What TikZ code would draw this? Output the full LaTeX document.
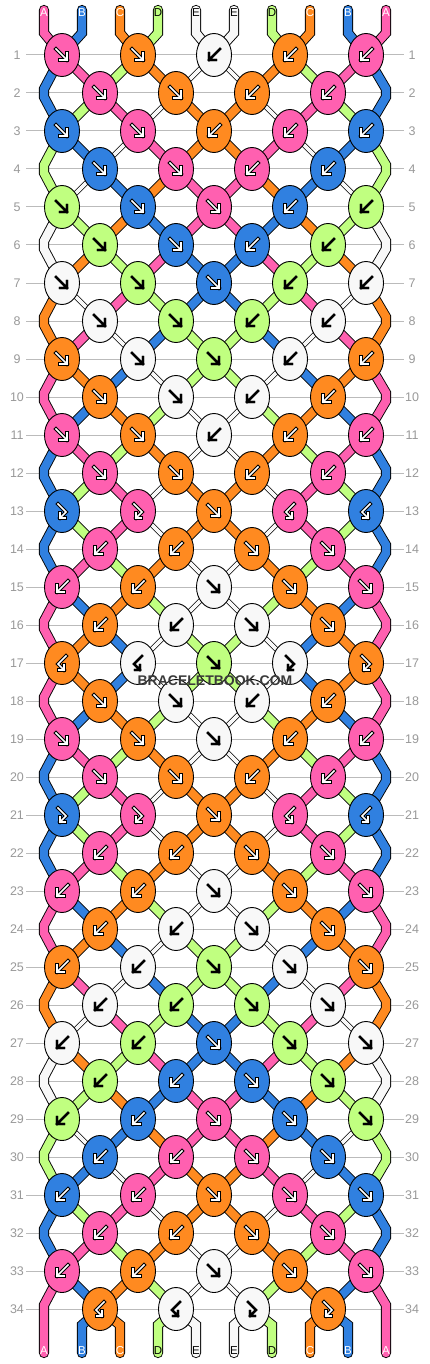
\documentclass[tikz,border=0pt]{standalone}
\usepackage{fontspec}
\setmainfont{Liberation Sans}
\usetikzlibrary{shapes.geometric}
\pgfdeclarelayer{bg}
\pgfsetlayers{bg,main}
\definecolor{colA}{HTML}{FF60B0}
\definecolor{colB}{HTML}{3080E0}
\definecolor{colC}{HTML}{FF8A20}
\definecolor{colD}{HTML}{C0FF80}
\definecolor{colE}{HTML}{F8F8F8}
\definecolor{gridgray}{HTML}{BBBBBB}
\definecolor{numgray}{HTML}{999999}
\definecolor{wmgray}{HTML}{3A3A3A}
\tikzset{
 knotshape/.style={ellipse, draw=black, line width=0.9pt, minimum width=35pt, minimum height=43pt, inner sep=0pt},
 segbase/.style={draw=black, line width=0.9pt, double distance=8.4pt},
 segA/.style={segbase, double=colA},
 segB/.style={segbase, double=colB},
 segC/.style={segbase, double=colC},
 segD/.style={segbase, double=colD},
 segE/.style={draw=black, line width=0.8pt, double=colE, double distance=3.6pt},
 endbase/.style={draw=black, line width=0.9pt, double distance=8.4pt, line cap=round, line join=miter},
 endA/.style={endbase, double=colA},
 endB/.style={endbase, double=colB},
 endC/.style={endbase, double=colC},
 endD/.style={endbase, double=colD},
 endE/.style={endbase, double=colE},
 darkout/.style={draw=black, line width=3.6pt, line cap=rect, line join=miter},
 darkin/.style={draw=white, line width=1.6pt, line cap=rect, line join=miter},
 lightarr/.style={draw=black, line width=2.2pt, line cap=rect, line join=miter},
 oA/.style={darkout}, oB/.style={darkout}, oC/.style={darkout}, oD/.style={lightarr}, oE/.style={lightarr},
 iA/.style={darkin}, iB/.style={darkin}, iC/.style={darkin}, iD/.style={lightarr}, iE/.style={lightarr},
 pics/af/.style={code={\draw[#1] (-6,-6) -- (5,5) (5,-2) -- (5,5) -- (-2,5);}},
 pics/ab/.style={code={\draw[#1] (6,-6) -- (-5,5) (-5,-2) -- (-5,5) -- (2,5);}},
 pics/afb/.style={code={\draw[#1] (-4,-7) -- (4,1) -- (-2,7) (-2,2) -- (-2,7) -- (3,7);}},
 pics/abf/.style={code={\draw[#1] (4,-7) -- (-4,1) -- (2,7) (2,2) -- (2,7) -- (-3,7);}},
 numlabel/.style={text=numgray, font=\fontsize{12.5}{12.5}\selectfont, inner sep=0pt},
 strlabel/.style={font=\fontsize{11.5}{11.5}\selectfont, inner sep=0pt},
}
\begin{document}
\begin{tikzpicture}[x=1pt,y=-1pt]
\useasboundingbox (0,0) rectangle (430,1364);
% knots
\foreach \rr/\ks in {
 1/{A/f,C/f,E/b,C/b,A/b},
 2/{A/f,C/f,C/b,A/b},
 3/{B/f,A/f,C/b,A/b,B/b},
 4/{B/f,A/f,A/b,B/b},
 5/{D/f,B/f,A/f,B/b,D/b},
 6/{D/f,B/f,B/b,D/b},
 7/{E/f,D/f,B/f,D/b,E/b},
 8/{E/f,D/f,D/b,E/b},
 9/{C/f,E/f,D/f,E/b,C/b},
 10/{C/f,E/f,E/b,C/b},
 11/{A/f,C/f,E/b,C/b,A/b},
 12/{A/f,C/f,C/b,A/b},
 13/{B/fb,A/fb,C/f,A/bf,B/bf},
 14/{A/b,C/b,C/f,A/f},
 15/{A/b,C/b,E/f,C/f,A/f},
 16/{C/b,E/b,E/f,C/f},
 17/{C/bf,E/bf,D/f,E/fb,C/fb},
 18/{C/f,E/f,E/b,C/b},
 19/{A/f,C/f,E/f,C/b,A/b},
 20/{A/f,C/f,C/b,A/b},
 21/{B/fb,A/fb,C/f,A/bf,B/bf},
 22/{A/b,C/b,C/f,A/f},
 23/{A/b,C/b,E/f,C/f,A/f},
 24/{C/b,E/b,E/f,C/f},
 25/{C/b,E/b,D/f,E/f,C/f},
 26/{E/b,D/b,D/f,E/f},
 27/{E/b,D/b,B/f,D/f,E/f},
 28/{D/b,B/b,B/f,D/f},
 29/{D/b,B/b,A/f,B/f,D/f},
 30/{B/b,A/b,A/f,B/f},
 31/{B/b,A/b,C/f,A/f,B/f},
 32/{A/b,C/b,C/f,A/f},
 33/{A/b,C/b,E/f,C/f,A/f},
 34/{C/bf,E/bf,E/fb,C/fb}}{
  \pgfmathtruncatemacro\rodd{mod(\rr,2)}
  \foreach \cl/\ty [count=\kk] in \ks {
    \pgfmathsetmacro\xx{62+38*(1-\rodd)+76*(\kk-1)}
    \pgfmathsetmacro\yy{17+38*\rr}
    \node[knotshape, fill=col\cl] (k-\rr-\kk) at (\xx,\yy) {};
    \edef\tmp{\noexpand\pic at (k-\rr-\kk.center) {a\ty=o\cl};
              \noexpand\pic at (k-\rr-\kk.center) {a\ty=i\cl};}\tmp
  }
}
% string end coordinates and labels
\foreach \p/\cl/\tc in {1/A/white,2/B/white,3/C/white,4/D/black,5/E/black,6/E/black,7/D/black,8/C/white,9/B/white,10/A/white}{
  \pgfmathsetmacro\xx{6+38*\p}
  \coordinate (t\p) at (\xx,10);
  \coordinate (tb\p) at (\xx,33);
  \coordinate (bb\p) at (\xx,1325);
  \coordinate (b\p) at (\xx,1353);
  \node[strlabel, text=\tc] (lt-\p) at (\xx,13) {\cl};
  \node[strlabel, text=\tc] (lb-\p) at (\xx,1351) {\cl};
}
\foreach \rr in {2,4,...,34}{
  \pgfmathsetmacro\yy{17+38*\rr}
  \coordinate (eL-\rr-a) at (44,\yy-4);
  \coordinate (eL-\rr-b) at (44,\yy+4);
  \coordinate (eR-\rr-a) at (386,\yy-4);
  \coordinate (eR-\rr-b) at (386,\yy+4);
}
% row numbers
\foreach \rr in {1,...,34}{
  \pgfmathsetmacro\yy{17+38*\rr}
  \node[numlabel] (nl-\rr) at (17,\yy) {\rr};
  \node[numlabel] (nr-\rr) at (412,\yy) {\rr};
}
\node[font=\bfseries\fontsize{14}{14}\selectfont, text=wmgray, inner sep=0pt] (wm) at (215,681) {BRACELETBOOK.COM};
\begin{pgfonlayer}{bg}
\fill[white] (0,0) rectangle (430,1364);
\foreach \rr in {1,...,34}{
  \pgfmathsetmacro\yy{17+38*\rr}
  \draw[gridgray, line width=1pt] (26,\yy) -- (404,\yy);
}
\foreach \rr/\st in {
 0/{A,B,C,D,E,E,D,C,B,A},
 1/{B,A,D,C,E,E,C,D,A,B},
 2/{B,D,A,E,C,C,E,A,D,B},
 3/{D,B,E,A,C,C,A,E,B,D},
 4/{D,E,B,C,A,A,C,B,E,D},
 5/{E,D,C,B,A,A,B,C,D,E},
 6/{E,C,D,A,B,B,A,D,C,E},
 7/{C,E,A,D,B,B,D,A,E,C},
 8/{C,A,E,B,D,D,B,E,A,C},
 9/{A,C,B,E,D,D,E,B,C,A},
 10/{A,B,C,D,E,E,D,C,B,A},
 11/{B,A,D,C,E,E,C,D,A,B},
 12/{B,D,A,E,C,C,E,A,D,B},
 13/{B,D,A,E,C,C,E,A,D,B},
 14/{B,A,D,C,E,E,C,D,A,B},
 15/{A,B,C,D,E,E,D,C,B,A},
 16/{A,C,B,E,D,D,E,B,C,A},
 17/{A,C,B,E,D,D,E,B,C,A},
 18/{A,B,C,D,E,E,D,C,B,A},
 19/{B,A,D,C,E,E,C,D,A,B},
 20/{B,D,A,E,C,C,E,A,D,B},
 21/{B,D,A,E,C,C,E,A,D,B},
 22/{B,A,D,C,E,E,C,D,A,B},
 23/{A,B,C,D,E,E,D,C,B,A},
 24/{A,C,B,E,D,D,E,B,C,A},
 25/{C,A,E,B,D,D,B,E,A,C},
 26/{C,E,A,D,B,B,D,A,E,C},
 27/{E,C,D,A,B,B,A,D,C,E},
 28/{E,D,C,B,A,A,B,C,D,E},
 29/{D,E,B,C,A,A,C,B,E,D},
 30/{D,B,E,A,C,C,A,E,B,D},
 31/{B,D,A,E,C,C,E,A,D,B},
 32/{B,A,D,C,E,E,C,D,A,B},
 33/{A,B,C,D,E,E,D,C,B,A},
 34/{A,B,C,D,E,E,D,C,B,A}}{
  \pgfmathtruncatemacro\rodd{mod(\rr,2)}
  \pgfmathtruncatemacro\rn{\rr+1}
  \pgfmathtruncatemacro\rnn{\rr+2}
  \foreach \cl [count=\p] in \st {
    \pgfmathtruncatemacro\ko{(\p+1)/2}
    \pgfmathtruncatemacro\ke{\p/2}
    \ifnum\rr=0
      \edef\tmp{\noexpand\draw[end\cl] (t\p) -- (tb\p) -- (k-1-\ko.center);}\tmp
    \else\ifnum\rr=34
      \ifnum\p>1 \ifnum\p<10
        \edef\tmp{\noexpand\draw[end\cl] (b\p) -- (bb\p) -- (k-34-\ke.center);}\tmp
      \fi\fi
    \else\ifnum\rodd=1
      \ifnum\p=1
        \ifnum\rr=33
          \edef\tmp{\noexpand\draw[end\cl] (b1) -- (eL-34-a) -- (k-33-1.center);}\tmp
        \else
          \edef\tmp{\noexpand\draw[end\cl] (k-\rr-1.center) -- (eL-\rn-a) -- (eL-\rn-b) -- (k-\rnn-1.center);}\tmp
        \fi
      \else\ifnum\p=10
        \ifnum\rr=33
          \edef\tmp{\noexpand\draw[end\cl] (b10) -- (eR-34-a) -- (k-33-5.center);}\tmp
        \else
          \edef\tmp{\noexpand\draw[end\cl] (k-\rr-5.center) -- (eR-\rn-a) -- (eR-\rn-b) -- (k-\rnn-5.center);}\tmp
        \fi
      \else
        \edef\tmp{\noexpand\draw[seg\cl] (k-\rr-\ko.center) -- (k-\rn-\ke.center);}\tmp
      \fi\fi
    \else
      \ifnum\p>1 \ifnum\p<10
        \edef\tmp{\noexpand\draw[seg\cl] (k-\rr-\ke.center) -- (k-\rn-\ko.center);}\tmp
      \fi\fi
    \fi\fi\fi
  }
}
\end{pgfonlayer}
\end{tikzpicture}
\end{document}
